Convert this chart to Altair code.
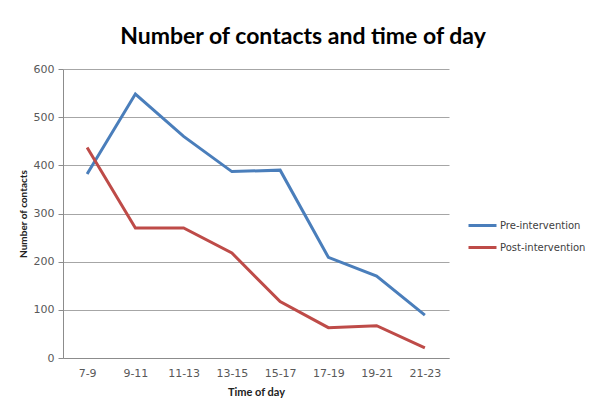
import altair as alt
import pandas as pd

times = ["7-9", "9-11", "11-13", "13-15", "15-17", "17-19", "19-21", "21-23"]
pre = [382, 548, 460, 387, 390, 209, 170, 89]
post = [437, 270, 270, 218, 117, 63, 67, 21]
series_names = ["Pre-intervention", "Post-intervention"]
colors = ["#4A7EBB", "#BE4B48"]

rows = []
for name, vals in zip(series_names, [pre, post]):
    for t, v in zip(times, vals):
        rows.append({"time": t, "contacts": v, "series": name})
df = pd.DataFrame(rows)

FONT = "Lato"
LFONT = "DejaVu Sans"

chart = alt.Chart(df).mark_line(strokeWidth=3).encode(
    x=alt.X("time:O", sort=times, scale=alt.Scale(type="point", padding=0.5),
            axis=alt.Axis(title="Time of day", labelAngle=0, ticks=False, grid=False,
                          domainColor="#8c8c8c", labelPadding=9, labelFontSize=11,
                          labelColor="#595959", titleFontSize=11, titleFontWeight="bold",
                          titleColor="#222222", titlePadding=8, labelFont=LFONT, titleFont=FONT)),
    y=alt.Y("contacts:Q", scale=alt.Scale(domain=[0, 600], nice=False),
            axis=alt.Axis(title="Number of contacts", values=[0, 100, 200, 300, 400, 500, 600],
                          grid=True, gridColor="#a6a6a6", domainColor="#8c8c8c",
                          tickColor="#8c8c8c", tickSize=5, labelPadding=4, labelFontSize=11,
                          labelColor="#595959", titleFontSize=10, titleFontWeight="bold",
                          titleColor="#222222", titlePadding=5, labelFont=LFONT, titleFont=FONT)),
    color=alt.Color("series:N", scale=alt.Scale(domain=series_names, range=colors),
                    legend=alt.Legend(title=None, orient="none", legendX=404, legendY=141,
                                      symbolType="stroke", symbolSize=784, symbolStrokeWidth=3,
                                      labelFontSize=10, labelColor="#404040", labelFont=LFONT,
                                      labelOffset=2, rowPadding=-6)),
).properties(
    width=386,
    height=289,
    title=alt.TitleParams("Number of contacts and time of day", fontSize=23, font=FONT,
                          fontWeight="bold", color="#000000", anchor="middle", dx=47, offset=14),
    autosize=alt.AutoSizeParams(type="none"),
    padding={"left": 55, "top": 61, "right": 142, "bottom": 43},
).configure_view(stroke=None)

chart.save("out.html", embed_options={"renderer": "svg", "actions": False})
